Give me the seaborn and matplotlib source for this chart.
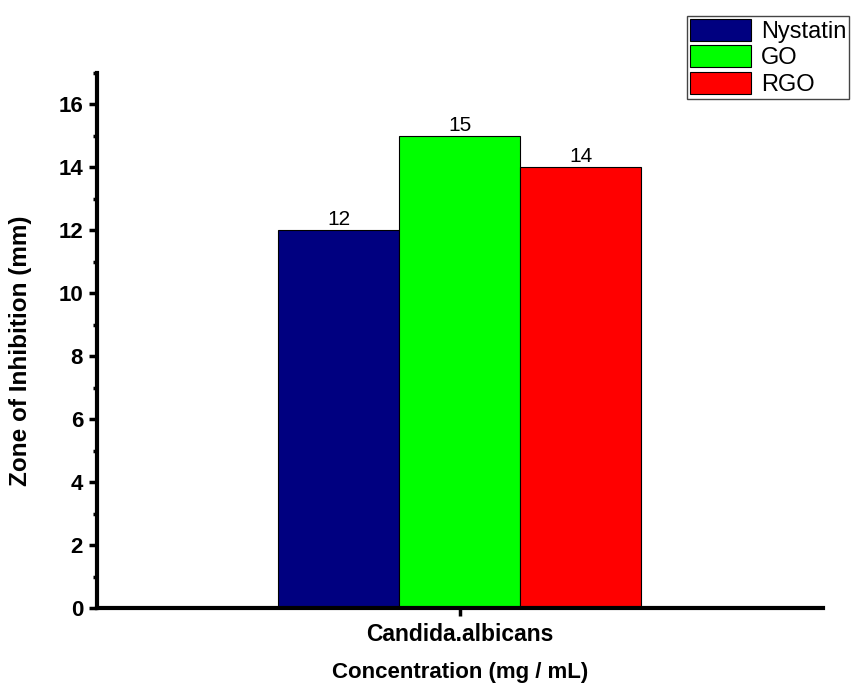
import pandas as pd
import matplotlib
matplotlib.use("Agg")
import matplotlib.pyplot as plt
from matplotlib.ticker import MultipleLocator
import seaborn as sns

# data
organism = ["Candida.albicans"]
treatments = ["Nystatin", "GO", "RGO"]
zone_mm = [12, 15, 14]
colors = ["#000080", "#00FF00", "#FF0000"]

df = pd.DataFrame({
    "organism": organism * len(treatments),
    "treatment": treatments,
    "zone": zone_mm,
})

sns.set_style("white")
plt.rcParams["font.family"] = ["Liberation Sans", "DejaVu Sans"]
plt.rcParams["text.color"] = "black"
plt.rcParams["axes.labelcolor"] = "black"
plt.rcParams["xtick.color"] = "black"
plt.rcParams["ytick.color"] = "black"

fig = plt.figure(figsize=(8.56, 6.86), dpi=100)
ax = fig.add_axes([0.1133, 0.1137, 0.8481, 0.7799])

sns.barplot(data=df, x="organism", y="zone", hue="treatment",
            palette=colors, width=0.5, edgecolor="black", linewidth=0.8,
            saturation=1, ax=ax)

for cont in ax.containers:
    ax.bar_label(cont, fontsize=15, padding=1, color="black")

ax.set_xlim(-0.5, 0.5)
ax.set_ylim(0, 17)
ax.yaxis.set_major_locator(MultipleLocator(2))
ax.yaxis.set_minor_locator(MultipleLocator(1))

for side in ["top", "right"]:
    ax.spines[side].set_visible(False)
for side in ["left", "bottom"]:
    ax.spines[side].set_linewidth(3)
    ax.spines[side].set_color("black")

ax.tick_params(axis="both", which="major", direction="out", length=6,
               width=2.5, labelsize=16, bottom=True, left=True, pad=4)
ax.tick_params(axis="x", which="major", labelsize=16.5, pad=5)
ax.tick_params(axis="y", which="minor", direction="out", length=3, width=2.5,
               left=True)
for lab in ax.get_xticklabels() + ax.get_yticklabels():
    lab.set_fontweight("bold")

ax.set_ylabel("Zone of Inhibition (mm)", fontsize=17.5, fontweight="bold")
ax.yaxis.set_label_coords(-0.09, 0.48)
ax.set_xlabel("Concentration (mg / mL)", fontsize=16, fontweight="bold")
ax.xaxis.set_label_coords(0.5, -0.1)

ax.legend_.remove()
fig.legend([c.patches[0] for c in ax.containers], treatments,
           loc="upper left", bbox_to_anchor=(0.8026, 0.977),
           fontsize=17, frameon=True, fancybox=False, edgecolor="#444444",
           framealpha=1, handlelength=2.6, handleheight=1.05,
           labelspacing=0.12, borderpad=0.12, handletextpad=0.4,
           borderaxespad=0)

fig.savefig("out.png", dpi=100)
